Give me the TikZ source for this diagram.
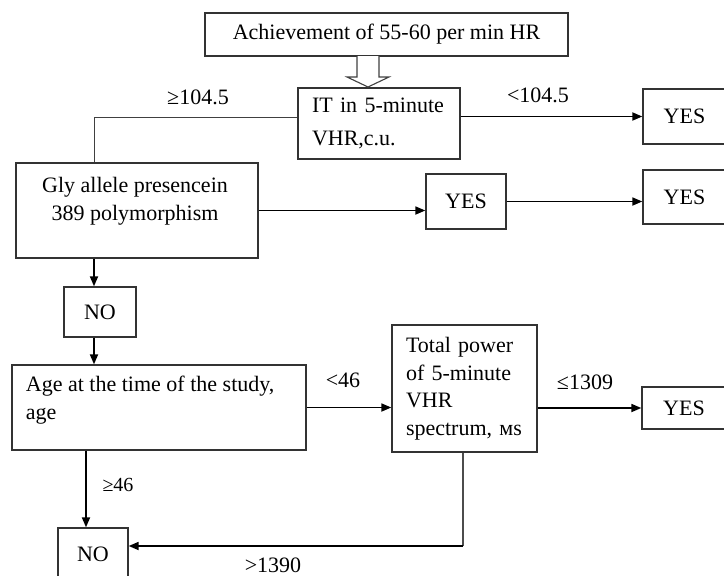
\documentclass[tikz,border=0pt]{standalone}
\usepackage{fontspec}
\setmainfont{Liberation Serif}
\usetikzlibrary{arrows.meta}
\tikzset{
  box/.style={draw=black!80, line width=1.3pt, inner sep=0pt},
  arr/.style={line width=1.7pt, -{Triangle[length=10pt,width=8pt]}},
  lbl/.style={inner sep=0.75pt},
}

\begin{document}
\begin{tikzpicture}[x=1pt,y=1pt,yscale=-1,font=\fontsize{22}{27.5}\selectfont]
\useasboundingbox (0,0) rectangle (724,576);

% Boxes
\node[box, minimum width=363, minimum height=43] (start) at (386.5,34.5) {Achievement of 55-60 per min HR};
\node[box, minimum width=162, minimum height=71, text width=134, inner xsep=14, align=left] (it) at (379,123.5) {IT in 5-minute\\[5pt]VHR,c.u.};
\node[box, minimum width=242, minimum height=95] (gly) at (137,210.5) {};
\node[box, minimum width=83, minimum height=55] (yesA) at (684.5,116.5) {YES};
\node[box, minimum width=80, minimum height=55] (yesM) at (466,201.5) {YES};
\node[box, minimum width=83, minimum height=54] (yesB) at (684.5,197) {YES};
\node[box, minimum width=72, minimum height=50] (no1) at (100,312) {NO};
\node[box, minimum width=294, minimum height=85] (age) at (159,407.5) {};
\node[box, minimum width=145, minimum height=127, text width=117, inner xsep=14, align=left] (total) at (464.5,388.5) {Total power\\of 5-minute\\VHR\\spectrum, мs};
\node[box, minimum width=84, minimum height=42] (yesD) at (684,408) {YES};
\node[box, minimum width=70, minimum height=52] (no2) at (93,554) {NO};

% Text Node
\node[lbl, align=center] (glytext) at (135,201) {Gly allele presencein\\389 polymorphism};
% Text Node
\node[lbl, align=left, anchor=west] (agetext) at (25,400) {Age at the time of the study,\\age};

%Hollow arrow
\draw[line width=1.1pt, black!75, fill=white] (357,56) -- (357,77) -- (347,77) -- (368,87) -- (389,77) -- (379,77) -- (379,56);

%Straight Lines
\coordinate (split) at (94,117);
\draw[line width=0.9pt, black!75] (it.west |- split) -- (split) -- (split |- gly.north);
\draw[arr] (it.east |- yesA) -- (yesA.west);
\draw[arr] (gly.east) -- (gly.east -| yesM.west);
\draw[arr] (yesM.east) -- (yesM.east -| yesB.west);
\draw[arr] (split |- gly.south) -- (split |- no1.north);
\draw[arr] (split |- no1.south) -- (split |- age.north);
\draw[arr] (age.east) -- (age.east -| total.west);
\draw[arr] (total.east |- yesD) -- (yesD.west);
\draw[arr] ([xshift=-7pt]no2.north |- age.south) -- ([xshift=-7pt]no2.north);
\coordinate (back) at (463,546);
\draw[line width=1.1pt, black!70] (total.south -| back) -- (back);
\draw[arr] (back) -- (back -| no2.east);

% Text Node
\node[lbl] (geA) at (198,97) {≥104.5};
\node[lbl] (ltA) at (538,95) {<104.5};
\node[lbl] (lt46) at (343,380) {<46};
\node[lbl] (le1309) at (585,382) {≤1309};
\node[lbl, font=\fontsize{20}{24}\selectfont] (ge46) at (118,485) {≥46};
\node[lbl] (gt1390) at (273,565) {>1390};

\end{tikzpicture}
\end{document}
